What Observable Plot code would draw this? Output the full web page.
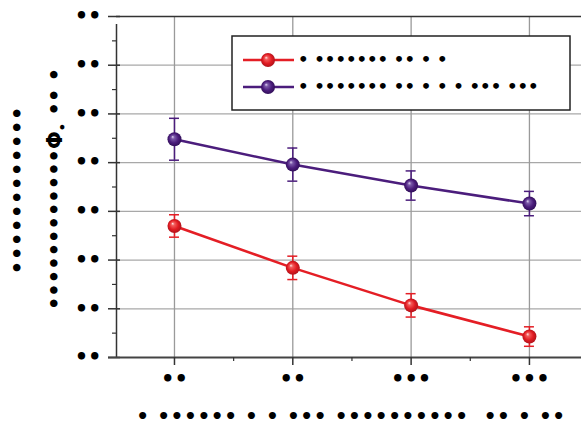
<!DOCTYPE html>
<html><head><meta charset="utf-8">
<script src="https://cdn.jsdelivr.net/npm/d3@7"></script>
<script src="https://cdn.jsdelivr.net/npm/@observablehq/plot@0.6"></script>
<style>
body{margin:0;background:#fff}
#chart{width:581px;height:428px;overflow:hidden}
</style>
</head><body><div id="chart"></div>
<script>
// ---- data ----
const categories = ["••", "••", "•••", "•••"];
const yTickValues = [0, 1, 2, 3, 4, 5, 6, 7];
const yTickLabels = ["••", "••", "••", "••", "••", "••", "••", "••"];
const seriesNames = ["• ••••••• •• • •", "• ••••••• •• • • • ••• •••"];
const seriesColors = ["#e41e25", "#4b1d7c"];
const redValues = [2.70, 1.84, 1.07, 0.43];
const redErrors = [0.23, 0.24, 0.24, 0.20];
const purpleValues = [4.48, 3.96, 3.53, 3.16];
const purpleErrors = [0.43, 0.34, 0.30, 0.25];
const xTitle = "• •••••• • • ••• ••••••••••  •• • ••";
const yTitleLine1 = "••••••••••••";
const yTitleLine2 = ["••••••••••••Φ", "•", " •• •"];

const data = [];
categories.forEach((c, i) => {
  data.push({i, series: seriesNames[0], v: redValues[i], e: redErrors[i]});
  data.push({i, series: seriesNames[1], v: purpleValues[i], e: purpleErrors[i]});
});
const idx = categories.map((c, i) => i);
const font = "DejaVu Sans";

const xMin = -0.49, xMax = 3.44;
const perSeries = (k) => d => d.series === seriesNames[k];

const marks = [
  // gridlines
  Plot.ruleY(yTickValues.filter(v => v > 0 && v < 7), {x1: xMin, x2: xMax, stroke: "#a8a8a8", strokeWidth: 1.3}),
  Plot.ruleX(idx, {y1: 0, y2: 7, stroke: "#9a9a9a", strokeWidth: 1.3}),
  // frame top
  Plot.ruleY([7], {x1: xMin, x2: xMax, stroke: "#333", strokeWidth: 1.5}),
  // y axis line
  Plot.ruleX([xMin], {y1: 0, y2: 7, insetBottom: -8, stroke: "#333", strokeWidth: 1.5}),
  // major y ticks
  Plot.ruleY(yTickValues, {x1: xMin, x2: xMin, insetLeft: -8, insetRight: -4, stroke: "#333", strokeWidth: 1.5}),
  // minor y ticks
  Plot.ruleY(yTickValues.slice(0, -1).map(v => v + 0.5), {x1: xMin, x2: xMin, insetLeft: -4, stroke: "#333", strokeWidth: 1.2}),
  // bottom axis
  Plot.ruleY([0], {x1: xMin, x2: xMax, insetLeft: -8, stroke: "#444", strokeWidth: 2}),
  // major x ticks
  Plot.ruleX(idx, {y1: 0, y2: 0, insetBottom: -8, stroke: "#333", strokeWidth: 1.5}),
  // minor x ticks
  Plot.ruleX(idx.map(i => i + 0.5).filter(v => v < xMax), {y1: 0, y2: 0, insetBottom: -4, stroke: "#333", strokeWidth: 1.2}),
  // tick labels
  Plot.text(yTickValues, {x: xMin, y: d => d, text: (d, i) => yTickLabels[i], textAnchor: "end", dx: -15, fontSize: 21, fontWeight: "bold", fontFamily: font, fill: "#000"}),
  Plot.text(idx, {x: d => d, y: 0, text: d => categories[d], dy: 22, fontSize: 21, fontWeight: "bold", fontFamily: font, fill: "#000"}),
];
seriesNames.forEach((s, k) => {
  marks.push(
    Plot.line(data, {filter: perSeries(k), x: "i", y: "v", stroke: seriesColors[k], strokeWidth: 2.6}),
    Plot.ruleX(data, {filter: perSeries(k), x: "i", y1: d => d.v - d.e, y2: d => d.v + d.e, stroke: seriesColors[k], strokeWidth: 1.5}),
    Plot.ruleY(data, {filter: perSeries(k), x1: "i", x2: "i", y: d => d.v - d.e, insetLeft: -5, insetRight: -5, stroke: seriesColors[k], strokeWidth: 1.5}),
    Plot.ruleY(data, {filter: perSeries(k), x1: "i", x2: "i", y: d => d.v + d.e, insetLeft: -5, insetRight: -5, stroke: seriesColors[k], strokeWidth: 1.5}),
    Plot.dot(data, {filter: perSeries(k), x: "i", y: "v", r: 7, fill: `url(#ball${k})`, stroke: "none"})
  );
});

const svg = Plot.plot({
  width: 581, height: 428,
  marginLeft: 116, marginRight: 0, marginTop: 16, marginBottom: 71,
  x: {domain: [xMin, xMax], axis: null},
  y: {domain: [0, 7], axis: null},
  style: {background: "#fff", overflow: "visible"},
  marks
});
document.getElementById("chart").append(svg);

// gradients for the shaded markers
const S = d3.select(svg);
const defs = S.insert("defs", ":first-child");
const stops = [
  [["0%", "#ffe4e4"], ["22%", "#f25a5a"], ["60%", "#e11b22"], ["100%", "#a5121a"]],
  [["0%", "#e2d6f4"], ["22%", "#7a58a8"], ["60%", "#4b1d7c"], ["100%", "#2c0c52"]]
];
stops.forEach((st, k) => {
  const g = defs.append("radialGradient").attr("id", `ball${k}`)
    .attr("cx", "50%").attr("cy", "50%").attr("r", "55%").attr("fx", "36%").attr("fy", "32%");
  st.forEach(([o, c]) => g.append("stop").attr("offset", o).attr("stop-color", c));
});

// x title
S.append("text").attr("x", 351).attr("y", 423)
  .attr("text-anchor", "middle").attr("font-family", font).attr("font-size", 20)
  .attr("font-weight", "bold").attr("letter-spacing", 0.6).attr("fill", "#000").text(xTitle);

// y title (two rotated lines)
const yt = S.append("g").attr("font-family", font).attr("font-size", 21).attr("font-weight", "bold").attr("fill", "#000");
yt.append("text").attr("transform", "translate(25,190) rotate(-90)")
  .attr("text-anchor", "middle").attr("letter-spacing", 0.6).text(yTitleLine1);
const t2 = yt.append("text").attr("transform", "translate(62,189) rotate(-90)").attr("text-anchor", "middle");
t2.append("tspan").text(yTitleLine2[0]);
t2.append("tspan").attr("font-size", 13).attr("dy", 5).text(yTitleLine2[1]);
t2.append("tspan").attr("dy", -5).text(yTitleLine2[2]);

// legend
const lg = S.append("g");
lg.append("rect").attr("x", 232).attr("y", 36).attr("width", 338).attr("height", 74)
  .attr("fill", "#fff").attr("stroke", "#222").attr("stroke-width", 1.5);
seriesNames.forEach((s, k) => {
  const y = 60 + k * 27;
  lg.append("line").attr("x1", 243).attr("x2", 294).attr("y1", y).attr("y2", y)
    .attr("stroke", seriesColors[k]).attr("stroke-width", 2.6);
  lg.append("circle").attr("cx", 268).attr("cy", y).attr("r", 7).attr("fill", `url(#ball${k})`);
  lg.append("text").attr("x", 298).attr("y", y).attr("dy", "0.32em").attr("text-anchor", "start")
    .attr("font-family", font).attr("font-size", 16.5).attr("font-weight", "bold").attr("fill", "#000").text(s);
});
</script>
</body></html>
